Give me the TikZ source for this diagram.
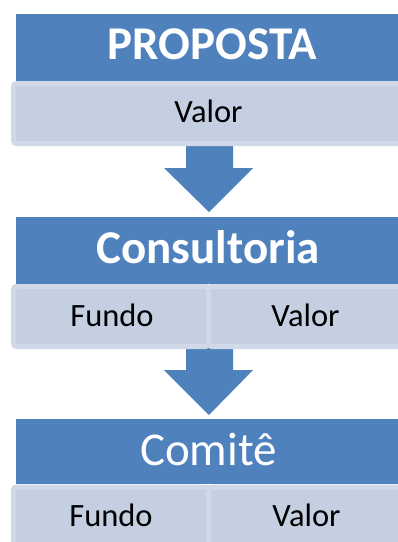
\documentclass[tikz,border=0pt]{standalone}
\usepackage{fontspec}
\setmainfont{Carlito}
\definecolor{hblue}{HTML}{4F81BD}
\definecolor{subfill}{HTML}{C4CFE2}
\definecolor{subline}{HTML}{D1D9E8}
\tikzset{
  headbox/.style={fill=hblue, draw=none},
  subbox/.style={fill=subfill, draw=subline, line width=5pt, rounded corners=3pt},
  blockarrow/.style={fill=hblue, draw=none},
  headtext/.style={text=white, font=\fontsize{47}{56}\selectfont, anchor=base, inner sep=0pt},
  subtext/.style={text=black, font=\fontsize{32.5}{39}\selectfont, anchor=base, inner sep=0pt}
}
\begin{document}
\begin{tikzpicture}[x=1pt,y=-1pt]
\useasboundingbox (0,0) rectangle (398,542);
\clip (0,0) rectangle (398,542);
% arrows (behind boxes)
\path[blockarrow] (186,140) -- (233,140) -- (233,168) -- (253,168) -- (209,212) -- (164,168) -- (186,168) -- cycle;
\path[blockarrow] (186,345) -- (233,345) -- (233,370) -- (253,370) -- (209,415) -- (164,370) -- (186,370) -- cycle;
% stage 1
\path[headbox] (16,14) rectangle (420,80.5);
\path[subbox] (13.5,83.5) rectangle (440,143.5);
\node[headtext, font=\fontsize{47}{56}\selectfont\bfseries] (t1) at (212.5,59.3) {PROPOSTA};
\node[subtext] (v1) at (208.5,122.3) {Valor};
% stage 2
\path[headbox] (16,217) rectangle (420,283.5);
\path[subbox] (13.5,286.5) rectangle (208.5,346.5);
\path[subbox] (208.5,286.5) rectangle (440,346.5);
\node[headtext, font=\fontsize{47}{56}\selectfont\bfseries] (t2) at (208,263) {Consultoria};
\node[subtext] (f2) at (112,326.7) {Fundo};
\node[subtext] (v2) at (305.5,326.7) {Valor};
% stage 3
\path[headbox] (16,419) rectangle (420,484);
\path[subbox] (13.5,487) rectangle (208.5,560);
\path[subbox] (208.5,487) rectangle (440,560);
\node[headtext] (t3) at (208.4,465) {Comitê};
\node[subtext] (f3) at (111,526) {Fundo};
\node[subtext] (v3) at (306.5,526) {Valor};
\end{tikzpicture}
\end{document}
